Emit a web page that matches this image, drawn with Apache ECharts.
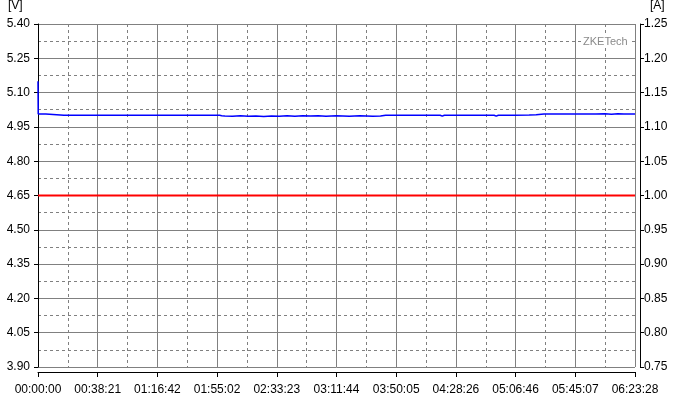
<!DOCTYPE html>
<html>
<head>
<meta charset="utf-8">
<script src="https://cdn.jsdelivr.net/npm/echarts@6/dist/echarts.min.js"></script>
<style>
html,body{margin:0;padding:0;background:#fff;}
#chart{width:675px;height:400px;}
</style>
</head>
<body>
<div id="chart"></div>
<script>
// time ticks (seconds) and labels
var xTickLabels = ["00:00:00","00:38:21","01:16:42","01:55:02","02:33:23","03:11:44","03:50:05","04:28:26","05:06:46","05:45:07","06:23:28"];
var xMaxSec = 23008;
var xStepSec = 2300.8;

// voltage trace [V]
var voltTime = [0, 8, 300, 320, 1000, 2000, 3000, 4000, 5000, 6000, 7000, 7080,
  7200, 7500, 7800, 8100, 8400, 8700, 9000, 9300, 9600, 9900, 10200, 10500, 10800,
  11100, 11500, 12000, 12400, 12900, 13200, 13400, 14000, 15000, 15500, 15580, 15660,
  16500, 16970, 17045, 17120, 17580, 17660, 17740, 18200, 18275, 18350, 18930, 19200,
  19500, 20000, 20500, 21000, 21500, 21850, 22100, 22350, 22580, 22800, 23008];
var voltVals = [5.150, 5.006, 5.006, 5.001, 5.001, 5.001, 5.001, 5.001, 5.001, 5.001, 5.001, 4.999,
  4.998, 4.997, 4.999, 4.997, 4.998, 4.996, 4.998, 4.997, 4.999, 4.997, 4.999, 4.998, 4.999,
  4.997, 4.999, 4.997, 4.999, 4.997, 4.998, 5.001, 5.001, 5.001, 5.001, 4.997, 5.001,
  5.001, 5.001, 4.997, 5.001, 5.001, 4.997, 5.001, 5.001, 4.997, 5.001, 5.002, 5.003,
  5.006, 5.006, 5.006, 5.006, 5.006, 5.007, 5.005, 5.007, 5.006, 5.006, 5.006];

// current trace [A]
var currTime = [0, 11504, 23008];
var currVals = [1.00, 1.00, 1.00];

var font = "Liberation Sans";
var grid = '#808080';

var chart = echarts.init(document.getElementById('chart'), null, {renderer:'canvas'});
chart.setOption({
  animation: false,
  backgroundColor: '#fff',
  textStyle: {fontFamily: font},
  grid: {left: 38, right: 40, top: 24, bottom: 33, containLabel: false},
  xAxis: {
    type: 'value', min: 0, max: xMaxSec, interval: xStepSec, offset: 5,
    axisLine: {show: true, lineStyle: {color: '#000', width: 1}},
    axisTick: {show: true, length: 5, inside: false, lineStyle: {color: '#000'}},
    axisLabel: {
      margin: 12, color: '#000', fontSize: 12, fontFamily: font, showMinLabel: true, showMaxLabel: true,
      formatter: function (v) { return xTickLabels[Math.round(v / xStepSec)] || ''; }
    },
    splitLine: {show: true, lineStyle: {color: grid, width: 1, type: 'solid'}},
    minorTick: {show: false, splitNumber: 2},
    minorSplitLine: {show: true, lineStyle: {color: grid, width: 1, type: [3, 3]}}
  },
  yAxis: [{
    type: 'value', min: 3.9, max: 5.4, interval: 0.15, offset: 5, position: 'left',
    axisLine: {show: true, lineStyle: {color: '#000', width: 1}},
    axisTick: {show: true, length: 4, lineStyle: {color: '#000'}},
    axisLabel: {margin: 3, color: '#000', fontSize: 12, fontFamily: font,
      formatter: function (v) { return v.toFixed(2); }},
    splitLine: {show: true, lineStyle: {color: grid, width: 1, type: 'solid'}},
    minorTick: {show: false, splitNumber: 2},
    minorSplitLine: {show: true, lineStyle: {color: grid, width: 1, type: [3, 3]}}
  }, {
    type: 'value', min: 0.75, max: 1.25, interval: 0.05, offset: 5, position: 'right',
    axisLine: {show: true, lineStyle: {color: '#000', width: 1}},
    axisTick: {show: true, length: 4, lineStyle: {color: '#000'}},
    axisLabel: {margin: 4, color: '#000', fontSize: 12, fontFamily: font,
      formatter: function (v) { return v.toFixed(2); }},
    splitLine: {show: false}
  }],
  graphic: [
    {type: 'text', left: 8, top: 0, z: 10, style: {text: '[V]', fill: '#000', font: '12px ' + font}},
    {type: 'text', left: 650, top: 0, z: 10, style: {text: '[A]', fill: '#000', font: '12px ' + font}},
    {type: 'text', left: 581, top: 35, z: 100, style: {text: 'ZKETech', fill: '#8a8a8a', font: '11px ' + font,
      backgroundColor: '#fff', padding: [1, 2, 1, 2]}}
  ],
  series: [{
    name: 'current', type: 'line', yAxisIndex: 1, showSymbol: false, symbol: 'none',
    lineStyle: {color: '#ff0000', width: 2}, z: 5,
    data: currTime.map(function (t, i) { return [t, currVals[i]]; })
  }, {
    name: 'voltage', type: 'line', yAxisIndex: 0, showSymbol: false, symbol: 'none',
    lineStyle: {color: '#0000ff', width: 1.5}, z: 4,
    data: voltTime.map(function (t, i) { return [t, voltVals[i]]; })
  }]
});
</script>
</body>
</html>
